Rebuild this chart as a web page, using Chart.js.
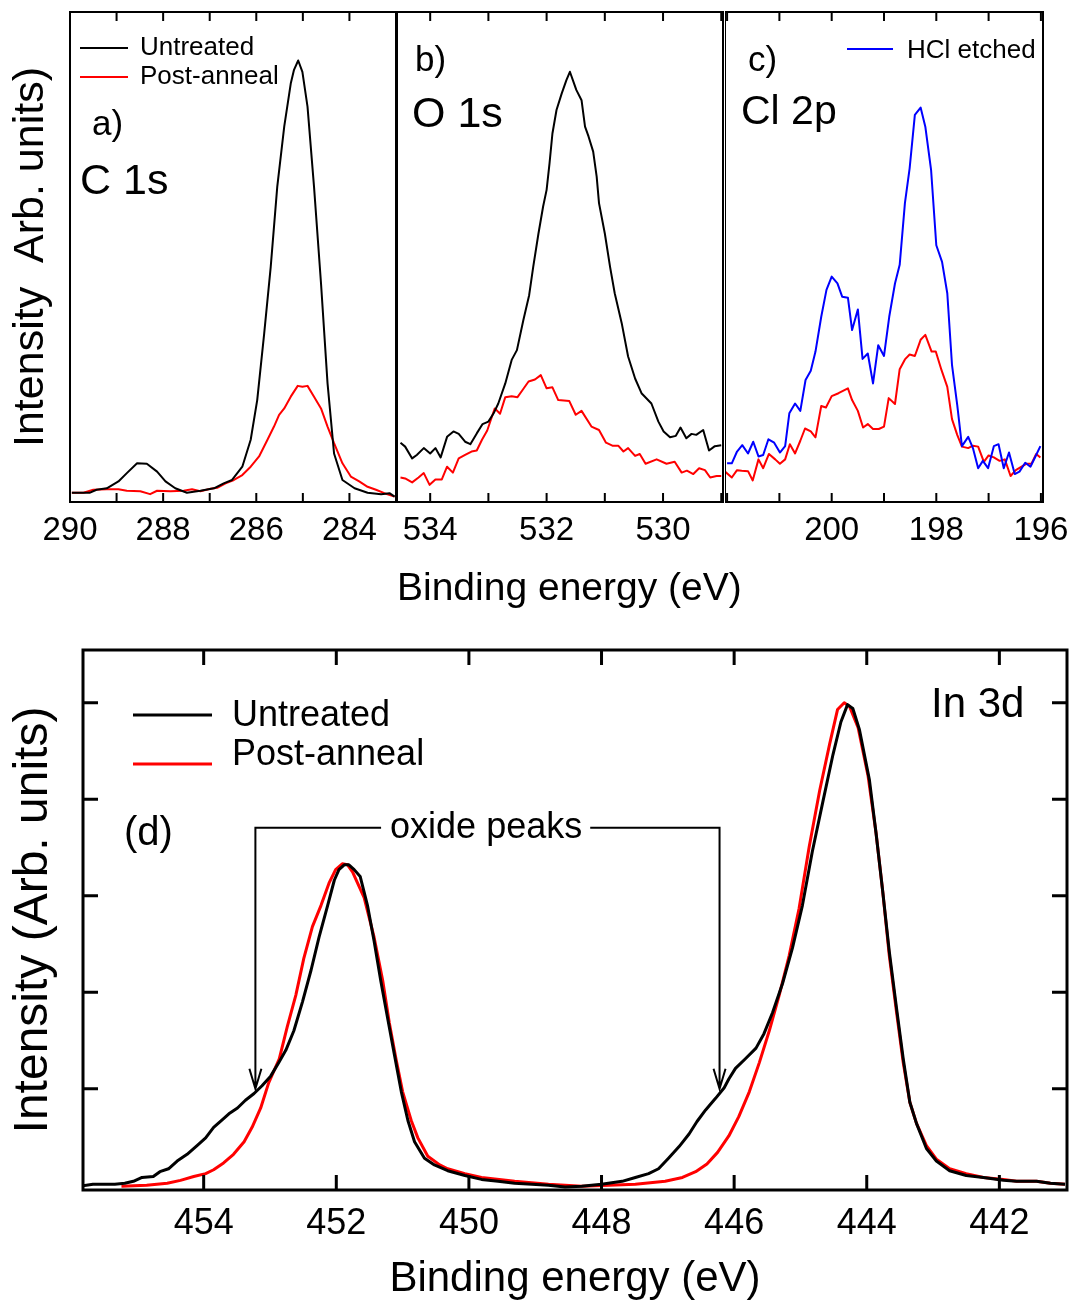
<!DOCTYPE html>
<html>
<head>
<meta charset="utf-8">
<script src="https://cdn.jsdelivr.net/npm/chart.js@4.4.1/dist/chart.umd.min.js"></script>
<style>
  body { margin: 0; background: #fff; }
  #wrap { position: relative; width: 1080px; height: 1307px; }
  canvas { position: absolute; }
</style>
</head>
<body>
<div id="wrap">
  <canvas id="panelA" width="398" height="560" style="left:0;top:0"></canvas>
  <canvas id="panelB" width="400" height="620" style="left:397px;top:0"></canvas>
  <canvas id="panelC" width="355" height="560" style="left:725px;top:0"></canvas>
  <canvas id="panelD" width="1080" height="687" style="left:0;top:620px"></canvas>
</div>
<script>
const FONT = "'Liberation Sans', Arial, Helvetica, sans-serif";
Chart.defaults.font.family = FONT;
Chart.defaults.color = '#000';

// a) C 1s
const c1sUntreatedE = [289.96, 289.57, 289.43, 289.21, 288.96, 288.78, 288.56, 288.35, 288.13, 287.95, 287.74, 287.49, 287.2, 286.91, 286.7, 286.52, 286.3, 286.12, 285.98, 285.83, 285.69, 285.55, 285.4, 285.26, 285.19, 285.1, 285.01, 284.9, 284.76, 284.61, 284.47, 284.33, 284.15, 283.89, 283.61, 283.32, 283.14, 283.03];
const c1sUntreatedI = [1.9, 1.9, 2.5, 2.8, 4.2, 5.9, 7.9, 7.8, 6.2, 4.2, 2.8, 1.9, 2.3, 2.8, 3.8, 4.5, 7.2, 12.7, 20.8, 34.4, 48.0, 64.3, 76.6, 85.4, 88.2, 90.1, 87.8, 80.7, 64.3, 44.6, 24.2, 9.9, 4.5, 2.8, 1.9, 1.6, 1.8, 1.1];
const c1sAnnealE = [289.96, 289.71, 289.5, 289.21, 288.96, 288.78, 288.49, 288.28, 288.13, 287.84, 287.56, 287.38, 287.2, 286.98, 286.84, 286.66, 286.48, 286.3, 286.12, 285.94, 285.76, 285.62, 285.51, 285.4, 285.26, 285.11, 285.01, 284.9, 284.76, 284.61, 284.47, 284.33, 284.15, 283.97, 283.79, 283.61, 283.43, 283.25, 283.03];
const c1sAnnealI = [1.9, 1.9, 2.5, 2.6, 2.6, 2.3, 2.2, 1.6, 2.3, 2.2, 2.3, 2.6, 2.2, 2.7, 2.9, 3.8, 4.5, 5.5, 7.2, 9.3, 12.7, 15.4, 17.8, 19.1, 21.5, 23.7, 23.5, 23.7, 21.5, 19.1, 15.4, 12.0, 7.9, 5.2, 4.2, 3.1, 2.5, 1.8, 1.1];
const c1sTicks = [283, 284, 285, 286, 287, 288, 289, 290];
const c1sLabels = [284, 286, 288, 290];

// b) O 1s
const o1sUntreatedE = [534.51, 534.43, 534.31, 534.23, 534.11, 534.0, 533.91, 533.82, 533.71, 533.6, 533.51, 533.4, 533.31, 533.2, 533.1, 533.0, 532.91, 532.83, 532.71, 532.6, 532.51, 532.4, 532.3, 532.23, 532.14, 532.06, 532.0, 531.95, 531.9, 531.83, 531.74, 531.66, 531.6, 531.54, 531.49, 531.4, 531.34, 531.28, 531.2, 531.14, 531.1, 531.0, 530.91, 530.83, 530.71, 530.6, 530.48, 530.37, 530.2, 530.08, 529.99, 529.88, 529.78, 529.7, 529.6, 529.51, 529.43, 529.31, 529.21, 529.11, 529.0];
const o1sUntreatedI = [12.1, 11.3, 8.9, 9.6, 11.0, 9.9, 11.0, 9.1, 13.3, 14.4, 13.9, 12.3, 11.8, 14.0, 15.9, 16.4, 18.1, 20.1, 24.2, 29.0, 31.0, 37.1, 42.2, 48.0, 54.8, 60.3, 63.7, 69.1, 75.2, 80.0, 83.4, 86.1, 87.8, 85.8, 84.1, 82.0, 76.6, 74.6, 71.5, 66.4, 61.0, 54.8, 48.0, 42.6, 36.5, 29.7, 25.2, 22.2, 20.1, 16.4, 14.4, 13.2, 13.5, 15.2, 13.0, 13.9, 13.7, 14.7, 10.5, 11.4, 11.6];
const o1sAnnealE = [534.51, 534.43, 534.31, 534.2, 534.11, 534.01, 533.91, 533.8, 533.71, 533.61, 533.51, 533.4, 533.29, 533.2, 533.11, 533.02, 532.94, 532.89, 532.8, 532.71, 532.6, 532.5, 532.41, 532.31, 532.2, 532.1, 532.0, 531.9, 531.8, 531.61, 531.5, 531.4, 531.23, 531.1, 530.98, 530.87, 530.77, 530.68, 530.6, 530.48, 530.4, 530.3, 530.11, 529.94, 529.8, 529.68, 529.59, 529.48, 529.38, 529.28, 529.19, 529.08, 529.0];
const o1sAnnealI = [5.0, 4.8, 4.0, 5.0, 5.9, 3.5, 4.6, 4.6, 7.2, 6.0, 8.9, 9.6, 10.3, 10.5, 12.7, 14.6, 17.4, 19.1, 18.0, 21.4, 21.6, 21.4, 22.9, 24.6, 25.0, 25.9, 23.2, 23.4, 20.8, 20.6, 17.8, 18.6, 15.4, 14.7, 12.1, 11.5, 11.5, 10.3, 11.0, 9.4, 9.8, 7.8, 8.7, 7.8, 8.2, 6.0, 6.4, 5.7, 6.9, 6.5, 5.0, 5.3, 5.3];
const o1sTicks = [529, 530, 531, 532, 533, 534];
const o1sLabels = [530, 532, 534];

// c) Cl 2p
const cl2pEtchedE = [202.0, 201.91, 201.81, 201.71, 201.6, 201.5, 201.4, 201.31, 201.21, 201.1, 200.99, 200.89, 200.81, 200.7, 200.6, 200.5, 200.4, 200.31, 200.2, 200.1, 200.0, 199.89, 199.8, 199.69, 199.61, 199.5, 199.41, 199.31, 199.21, 199.11, 199.0, 198.9, 198.79, 198.7, 198.6, 198.51, 198.41, 198.3, 198.21, 198.1, 198.0, 197.89, 197.79, 197.7, 197.6, 197.51, 197.39, 197.3, 197.2, 197.11, 197.01, 196.9, 196.81, 196.71, 196.61, 196.5, 196.41, 196.3, 196.2, 196.1, 196.01];
const cl2pEtchedI = [7.9, 7.9, 10.3, 11.6, 9.9, 12.3, 9.3, 9.6, 12.8, 12.1, 10.1, 11.4, 18.1, 20.1, 18.6, 24.9, 26.8, 30.7, 37.8, 43.3, 46.0, 44.6, 41.9, 41.7, 35.1, 39.3, 29.2, 30.3, 24.2, 32.0, 29.8, 37.8, 44.6, 48.4, 61.0, 68.1, 79.0, 80.5, 76.6, 67.8, 52.4, 49.0, 42.6, 28.0, 19.8, 11.4, 13.3, 11.0, 6.9, 8.4, 6.9, 11.4, 11.8, 6.9, 10.1, 5.7, 6.2, 8.0, 7.2, 9.4, 11.4];
const cl2pAnnealE = [202.04, 201.91, 201.81, 201.72, 201.6, 201.51, 201.4, 201.31, 201.2, 201.08, 200.99, 200.89, 200.8, 200.7, 200.6, 200.51, 200.4, 200.31, 200.2, 200.11, 200.0, 199.87, 199.69, 199.61, 199.5, 199.4, 199.31, 199.21, 199.1, 199.0, 198.91, 198.79, 198.7, 198.6, 198.51, 198.41, 198.3, 198.21, 198.09, 198.01, 197.9, 197.79, 197.7, 197.6, 197.51, 197.39, 197.3, 197.2, 197.09, 197.0, 196.9, 196.79, 196.69, 196.58, 196.48, 196.37, 196.28, 196.18, 196.09, 196.01];
const cl2pAnnealI = [6.2, 5.0, 6.5, 6.4, 6.3, 4.4, 8.7, 6.9, 9.8, 8.7, 7.8, 8.7, 11.8, 9.9, 12.5, 15.0, 14.4, 13.2, 19.6, 19.3, 21.6, 22.2, 23.2, 20.8, 18.6, 15.2, 15.9, 14.9, 14.9, 15.4, 21.2, 20.0, 27.1, 29.1, 30.1, 29.8, 33.1, 34.1, 30.7, 30.7, 26.9, 23.5, 16.9, 13.7, 11.3, 11.0, 11.5, 11.3, 8.2, 9.5, 9.1, 8.4, 8.7, 5.3, 6.5, 7.2, 7.8, 7.8, 9.8, 9.1];
const cl2pTicks = [196, 197, 198, 199, 200, 201, 202];
const cl2pLabels = [196, 198, 200];

// d) In 3d
const in3dUntreatedE = [455.85, 455.67, 455.51, 455.34, 455.19, 455.06, 454.93, 454.76, 454.66, 454.53, 454.4, 454.25, 454.1, 453.97, 453.85, 453.7, 453.62, 453.49, 453.37, 453.24, 453.12, 452.99, 452.86, 452.76, 452.64, 452.51, 452.38, 452.26, 452.13, 452.03, 451.96, 451.88, 451.81, 451.73, 451.64, 451.53, 451.43, 451.33, 451.22, 451.12, 451.02, 450.92, 450.82, 450.67, 450.52, 450.32, 450.06, 449.81, 449.56, 449.31, 449.05, 448.8, 448.55, 448.3, 448.0, 447.69, 447.49, 447.29, 447.14, 446.99, 446.83, 446.68, 446.56, 446.43, 446.28, 446.15, 446.08, 445.98, 445.83, 445.67, 445.55, 445.42, 445.27, 445.12, 444.97, 444.82, 444.66, 444.51, 444.39, 444.29, 444.21, 444.11, 443.96, 443.86, 443.76, 443.66, 443.55, 443.45, 443.35, 443.25, 443.1, 442.95, 442.75, 442.5, 442.24, 441.94, 441.74, 441.44, 441.23, 441.01];
const in3dUntreatedI = [-0.01, 0.01, 0.01, 0.01, 0.02, 0.04, 0.08, 0.09, 0.14, 0.17, 0.25, 0.32, 0.41, 0.49, 0.6, 0.69, 0.74, 0.8, 0.88, 0.95, 1.03, 1.13, 1.28, 1.4, 1.6, 1.9, 2.23, 2.57, 2.9, 3.16, 3.27, 3.32, 3.32, 3.27, 3.2, 2.9, 2.53, 2.12, 1.71, 1.34, 0.97, 0.67, 0.45, 0.28, 0.21, 0.15, 0.1, 0.06, 0.04, 0.02, 0.01, 0.0, -0.02, -0.01, 0.01, 0.04, 0.08, 0.12, 0.17, 0.28, 0.4, 0.53, 0.66, 0.78, 0.9, 1.01, 1.1, 1.21, 1.31, 1.42, 1.57, 1.79, 2.09, 2.46, 2.9, 3.46, 3.98, 4.46, 4.8, 4.98, 4.94, 4.72, 4.2, 3.65, 3.05, 2.42, 1.83, 1.31, 0.86, 0.64, 0.38, 0.25, 0.15, 0.1, 0.08, 0.05, 0.04, 0.04, 0.02, 0.01];
const in3dAnnealE = [455.24, 454.86, 454.55, 454.35, 454.15, 453.97, 453.85, 453.7, 453.55, 453.39, 453.27, 453.14, 453.02, 452.86, 452.74, 452.61, 452.49, 452.36, 452.23, 452.11, 452.01, 451.91, 451.83, 451.75, 451.58, 451.43, 451.3, 451.2, 451.1, 451.0, 450.87, 450.77, 450.62, 450.44, 450.32, 450.06, 449.81, 449.31, 448.8, 448.3, 447.89, 447.49, 447.04, 446.78, 446.58, 446.41, 446.25, 446.08, 445.93, 445.77, 445.62, 445.47, 445.32, 445.17, 445.02, 444.87, 444.71, 444.56, 444.44, 444.34, 444.26, 444.13, 443.98, 443.86, 443.76, 443.66, 443.55, 443.45, 443.35, 443.25, 443.1, 442.95, 442.75, 442.5, 442.24, 441.94, 441.74, 441.44, 441.23, 441.01];
const in3dAnnealI = [-0.01, 0.0, 0.02, 0.05, 0.09, 0.12, 0.16, 0.23, 0.32, 0.45, 0.6, 0.8, 1.06, 1.31, 1.64, 1.97, 2.35, 2.68, 2.9, 3.13, 3.27, 3.33, 3.32, 3.24, 2.98, 2.57, 2.12, 1.68, 1.31, 0.97, 0.67, 0.49, 0.3, 0.21, 0.17, 0.12, 0.08, 0.04, 0.01, -0.01, 0.0, 0.01, 0.04, 0.08, 0.14, 0.22, 0.34, 0.51, 0.71, 0.97, 1.27, 1.6, 1.97, 2.38, 2.87, 3.5, 4.09, 4.57, 4.93, 5.0, 4.96, 4.74, 4.24, 3.65, 3.05, 2.38, 1.79, 1.27, 0.86, 0.64, 0.41, 0.27, 0.17, 0.12, 0.08, 0.06, 0.04, 0.04, 0.02, 0.01];
const in3dTicks = [442, 444, 446, 448, 450, 452, 454];
const in3dLevels = [1, 2, 3, 4, 5];

// oxide shoulder arrows (binding energies) and bracket height
const oxideArrows = [453.22, 446.22];
const oxideLabel = 449.74;

function series(xs, ys) {
  return xs.map((x, i) => ({ x: x, y: ys[i] }));
}

function line(label, xs, ys, color, width) {
  return {
    label: label, data: series(xs, ys), borderColor: color, borderWidth: width,
    pointRadius: 0, tension: 0, fill: false, borderJoinStyle: 'round'
  };
}

// box around the plot area with inward tick marks
const frame = {
  id: 'frame',
  afterDatasetsDraw(chart, args, o) {
    const ctx = chart.ctx, a = chart.chartArea;
    const x = chart.scales.x, y = chart.scales.y;
    ctx.save();
    ctx.strokeStyle = '#000';
    ctx.lineWidth = o.width;
    ctx.beginPath();
    x.ticks.forEach(t => {
      const p = x.getPixelForValue(t.value);
      ctx.moveTo(p, a.bottom); ctx.lineTo(p, a.bottom - o.tick);
      ctx.moveTo(p, a.top); ctx.lineTo(p, a.top + o.tick);
    });
    if (o.yTicks) {
      y.ticks.forEach(t => {
        const p = y.getPixelForValue(t.value);
        ctx.moveTo(a.left, p); ctx.lineTo(a.left + o.tick, p);
        ctx.moveTo(a.right, p); ctx.lineTo(a.right - o.tick, p);
      });
    }
    ctx.stroke();
    ctx.strokeRect(a.left, a.top, a.right - a.left, a.bottom - a.top);
    ctx.restore();
  }
};

// line-sample legend, drawn where the original has it
const key = {
  id: 'key',
  afterDatasetsDraw(chart, args, o) {
    if (!o.items) return;
    const ctx = chart.ctx;
    ctx.save();
    ctx.font = o.size + 'px ' + FONT;
    ctx.textBaseline = 'alphabetic';
    o.items.forEach(it => {
      const ds = chart.data.datasets[it.index];
      ctx.strokeStyle = ds.borderColor;
      ctx.lineWidth = ds.borderWidth;
      ctx.beginPath();
      ctx.moveTo(it.x0, it.ly); ctx.lineTo(it.x1, it.ly);
      ctx.stroke();
      ctx.fillStyle = '#000';
      ctx.fillText(ds.label, it.tx, it.ty);
    });
    ctx.restore();
  }
};

// panel letters and core-level names
const notes = {
  id: 'notes',
  afterDatasetsDraw(chart, args, o) {
    if (!o.items) return;
    const ctx = chart.ctx;
    ctx.save();
    ctx.fillStyle = '#000';
    ctx.textBaseline = 'alphabetic';
    o.items.forEach(n => {
      ctx.font = n.size + 'px ' + FONT;
      ctx.fillText(n.text, n.x, n.y);
    });
    ctx.restore();
  }
};

const oxide = {
  id: 'oxide',
  afterDatasetsDraw(chart, args, o) {
    const ctx = chart.ctx, x = chart.scales.x, y = chart.scales.y;
    const ly = y.getPixelForValue(o.level), tip = y.getPixelForValue(o.tip);
    const cx = x.getPixelForValue(o.center);
    ctx.save();
    ctx.font = o.size + 'px ' + FONT;
    const w = ctx.measureText(o.text).width;
    ctx.fillStyle = '#000';
    ctx.textAlign = 'center';
    ctx.textBaseline = 'alphabetic';
    ctx.fillText(o.text, cx, ly + 10);
    ctx.strokeStyle = '#000';
    ctx.lineWidth = 2;
    const ends = [cx - w / 2 - 9, cx + w / 2 + 8];
    o.arrows.forEach((v, i) => {
      const ax = x.getPixelForValue(v);
      ctx.beginPath();
      ctx.moveTo(ends[i], ly); ctx.lineTo(ax, ly); ctx.lineTo(ax, tip);
      ctx.moveTo(ax - 6, tip - 20); ctx.lineTo(ax, tip); ctx.lineTo(ax + 6, tip - 20);
      ctx.stroke();
    });
    ctx.restore();
  }
};

function energyAxis(min, max, values, labels, size, pad, height) {
  return {
    type: 'linear', reverse: true, min: min, max: max,
    afterBuildTicks: s => { s.ticks = values.map(v => ({ value: v })); },
    afterFit: s => { s.height = height; },
    grid: { display: false, drawTicks: false },
    border: { display: false },
    ticks: {
      autoSkip: false, maxRotation: 0, minRotation: 0, padding: pad,
      font: { size: size },
      callback: v => labels.includes(v) ? String(v) : ''
    }
  };
}

function hiddenY(min, max, width) {
  return {
    type: 'linear', min: min, max: max,
    afterFit: s => { s.width = width; },
    grid: { display: false, drawTicks: false },
    border: { display: false },
    ticks: { display: false }
  };
}

const base = {
  responsive: false, animation: false, events: [],
  plugins: { legend: { display: false }, tooltip: { enabled: false } }
};

// a) C 1s
const yA = hiddenY(0, 100, 70);
yA.title = { display: true, text: 'Intensity  Arb. units)', font: { size: 43 }, padding: { top: 5, bottom: 0 } };
new Chart(document.getElementById('panelA'), {
  type: 'line',
  data: { datasets: [
    line('Untreated', c1sUntreatedE, c1sUntreatedI, '#000000', 2),
    line('Post-anneal', c1sAnnealE, c1sAnnealI, '#ff0000', 2)
  ] },
  options: Object.assign({}, base, {
    layout: { autoPadding: false, padding: { left: 0, top: 12, right: 2, bottom: 0 } },
    scales: { x: energyAxis(283, 290, c1sTicks, c1sLabels, 33, 9, 58), y: yA },
    plugins: Object.assign({}, base.plugins, {
      frame: { width: 2, tick: 9, yTicks: false },
      key: { size: 26, items: [
        { index: 0, x0: 80, x1: 128, ly: 48, tx: 140, ty: 55 },
        { index: 1, x0: 80, x1: 128, ly: 77, tx: 140, ty: 84 }
      ] },
      notes: { items: [
        { text: 'a)', x: 92, y: 135, size: 35 },
        { text: 'C 1s', x: 80, y: 194, size: 43 }
      ] }
    })
  }),
  plugins: [frame, key, notes]
});

// b) O 1s (also carries the shared energy label of the top row)
new Chart(document.getElementById('panelB'), {
  type: 'line',
  data: { datasets: [
    line('Untreated', o1sUntreatedE, o1sUntreatedI, '#000000', 2),
    line('Post-anneal', o1sAnnealE, o1sAnnealI, '#ff0000', 2)
  ] },
  options: Object.assign({}, base, {
    layout: { autoPadding: false, padding: { left: 0, top: 12, right: 74, bottom: 0 } },
    scales: { x: energyAxis(528.97, 534.57, o1sTicks, o1sLabels, 33, 9, 118), y: hiddenY(0, 100, 0) },
    plugins: Object.assign({}, base.plugins, {
      frame: { width: 2, tick: 9, yTicks: false },
      notes: { items: [
        { text: 'b)', x: 18, y: 71, size: 35 },
        { text: 'O 1s', x: 15, y: 127, size: 43 },
        { text: 'Binding energy (eV)', x: 0, y: 600, size: 39 }
      ] }
    })
  }),
  plugins: [frame, notes]
});

// c) Cl 2p
new Chart(document.getElementById('panelC'), {
  type: 'line',
  data: { datasets: [
    line('HCl etched', cl2pEtchedE, cl2pEtchedI, '#0000ff', 2),
    line('Post-anneal', cl2pAnnealE, cl2pAnnealI, '#ff0000', 2)
  ] },
  options: Object.assign({}, base, {
    layout: { autoPadding: false, padding: { left: 0, top: 12, right: 37, bottom: 0 } },
    scales: { x: energyAxis(195.96, 202.04, cl2pTicks, cl2pLabels, 33, 9, 58), y: hiddenY(0, 100, 0) },
    plugins: Object.assign({}, base.plugins, {
      frame: { width: 2, tick: 9, yTicks: false },
      key: { size: 26, items: [
        { index: 0, x0: 122, x1: 168, ly: 49, tx: 182, ty: 58 }
      ] },
      notes: { items: [
        { text: 'c)', x: 23, y: 71, size: 35 },
        { text: 'Cl 2p', x: 16, y: 124, size: 41 }
      ] }
    })
  }),
  plugins: [frame, key, notes]
});

// d) In 3d
const xD = energyAxis(440.98, 455.82, in3dTicks, in3dTicks, 36, 12, 117);
xD.title = { display: true, text: 'Binding energy (eV)', font: { size: 42 }, padding: { top: 0, bottom: 2 } };
const yD = hiddenY(-0.05, 5.546, 83);
yD.afterBuildTicks = s => { s.ticks = in3dLevels.map(v => ({ value: v })); };
yD.title = { display: true, text: 'Intensity (Arb. units)', font: { size: 48 }, padding: { top: 5, bottom: 0 } };
new Chart(document.getElementById('panelD'), {
  type: 'line',
  data: { datasets: [
    line('Untreated', in3dUntreatedE, in3dUntreatedI, '#000000', 3),
    line('Post-anneal', in3dAnnealE, in3dAnnealI, '#ff0000', 3)
  ] },
  options: Object.assign({}, base, {
    layout: { autoPadding: false, padding: { left: 0, top: 30, right: 13, bottom: 0 } },
    scales: { x: xD, y: yD },
    plugins: Object.assign({}, base.plugins, {
      frame: { width: 3, tick: 15, yTicks: true },
      key: { size: 36, items: [
        { index: 0, x0: 133, x1: 212, ly: 95, tx: 232, ty: 106 },
        { index: 1, x0: 133, x1: 212, ly: 144, tx: 232, ty: 145 }
      ] },
      notes: { items: [
        { text: '(d)', x: 124, y: 225, size: 40 },
        { text: 'In 3d', x: 931, y: 97, size: 42 }
      ] },
      oxide: { text: 'oxide peaks', size: 36, center: oxideLabel, level: 3.705, tip: 1.0, arrows: oxideArrows }
    })
  }),
  plugins: [frame, key, notes, oxide]
});
</script>
</body>
</html>
